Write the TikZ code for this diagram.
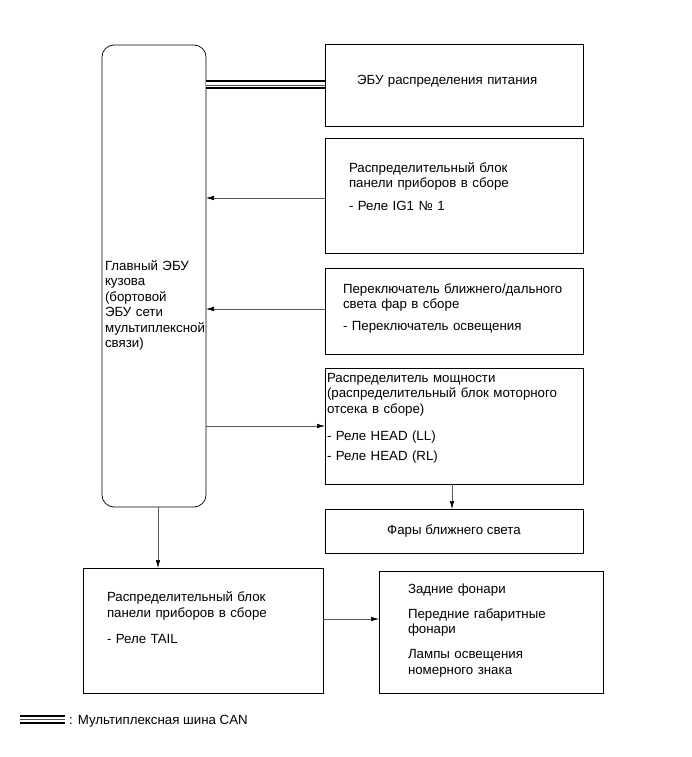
\documentclass[tikz,border=0pt]{standalone}
\usepackage{fontspec}
\setmainfont{Liberation Sans}
\usetikzlibrary{arrows.meta}

\begin{document}
\begin{tikzpicture}[
    x=1pt, y=-1pt,
    box/.style={rectangle, draw, line width=0.7pt, outer sep=0pt, inner ysep=0pt, align=left, anchor=north west, font=\fontsize{13.3}{15.5}\selectfont},
    arrow/.style={draw=black!65, line width=0.6pt, -{Latex[length=8pt,width=4.5pt,color=black]}},
    canbus/.style={line width=2pt, double, double distance=5pt},
    busline/.style={draw=black!70, line width=0.8pt}
]
\useasboundingbox (0,0) rectangle (691,757);

\node (ecu) [box, rounded corners=12pt, inner xsep=3pt, text width=98pt, text height=225pt, text depth=237pt] at (102,45) {Главный ЭБУ\\кузова\\(бортовой\\ЭБУ сети\\мультиплексной\\связи)};
\node (pwr) [box, inner xsep=32pt, text width=194pt, text height=41pt, text depth=41pt] at (325,44) {ЭБУ распределения питания};
\node (ig) [box, inner xsep=24pt, text width=210pt, text height=34.3pt, text depth=80.7pt] at (325,138) {Распределительный блок\\панели приборов в сборе\\[7.5pt]- Реле IG1 № 1};
\node (sw) [box, inner xsep=18pt, text width=222pt, text height=25.3pt, text depth=60.7pt] at (325,268) {Переключатель ближнего/дального\\света фар в сборе\\[6.5pt]- Переключатель освещения};
\node (pd) [box, inner xsep=2pt, text width=254pt, text height=14.3pt, text depth=101.7pt] at (325,368) {Распределитель мощности\\(распределительный блок моторного\\отсека в сборе)\\[12pt]- Реле HEAD (LL)\\[4.5pt]- Реле HEAD (RL)};
\node (lo) [box, anchor=center, align=center, minimum width=258pt, minimum height=44pt] at (454,531) {Фары ближнего света};
\node (jb) [box, inner xsep=24pt, text width=192pt, text height=33.7pt, text depth=91.3pt] at (83,568) {Распределительный блок\\панели приборов в сборе\\[10.5pt]- Реле TAIL};
\node (tl) [box, inner xsep=29pt, text width=166pt, text height=22.3pt, text depth=99.7pt] at (379,571) {Задние фонари\\[9.5pt]Передние габаритные\\фонари\\[9.5pt]Лампы освещения\\номерного знака};

% CAN bus
\draw[canbus, shorten <=0.4pt, shorten >=0.4pt] (ecu.east |- pwr.west) -- (pwr.west);
\draw[busline] (ecu.east |- pwr.west) -- (pwr.west);

\draw[arrow] ([yshift=-2.5pt]ig.west) -- ([yshift=-2.5pt]ig.west -| ecu.east);
\draw[arrow] ([yshift=2pt]sw.west) -- ([yshift=2pt]sw.west -| ecu.east);
\draw[arrow] (ecu.east |- pd.west) -- (pd.west);
\draw[arrow] ([xshift=-2pt]pd.south) -- ([xshift=-2pt]pd.south |- lo.north);
\draw[arrow] ([xshift=4pt]ecu.south) -- ([xshift=4pt]ecu.south |- jb.north);
\draw[arrow] ([yshift=11.5pt]jb.east) -- ([yshift=11.5pt]jb.east -| tl.west);

% legend
\node (legend) [anchor=base west, inner sep=1pt, font=\fontsize{13.3}{15.5}\selectfont] at (68,724) {: Мультиплексная шина CAN};
\coordinate (legend-start) at (20,719);
\draw[canbus, shorten >=3pt] (legend-start) -- (legend-start -| legend.west);
\draw[busline, shorten >=3pt] (legend-start) -- (legend-start -| legend.west);

\end{tikzpicture}
\end{document}
